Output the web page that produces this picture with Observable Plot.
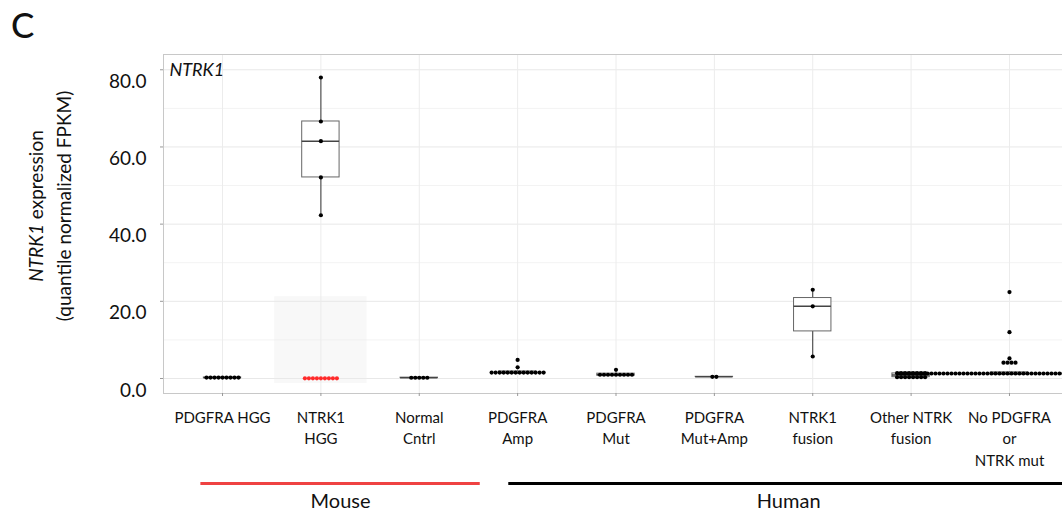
<!DOCTYPE html>
<html>
<head>
<meta charset="utf-8">
<script src="https://cdn.jsdelivr.net/npm/d3@7"></script>
<script src="https://cdn.jsdelivr.net/npm/@observablehq/plot@0.6"></script>
<style>
  html, body { margin: 0; padding: 0; background: #fff; overflow: hidden; }
  #wrap { width: 1070px; }
  #wrap svg { display: block; }
</style>
</head>
<body>
<div id="wrap"></div>
<script>
// ---------- data ----------
const categories = ["PDGFRA HGG", "NTRK1\nHGG", "Normal\nCntrl", "PDGFRA\nAmp", "PDGFRA\nMut",
  "PDGFRA\nMut+Amp", "NTRK1\nfusion", "Other NTRK\nfusion", "No PDGFRA\nor\nNTRK mut"];

const pdgfraHgg = [0.12, 0.15, 0.18, 0.2, 0.22, 0.24, 0.26, 0.3, 0.33];
const ntrk1Hgg = [42.3, 52.1, 61.5, 66.6, 78.0];
const ntrk1HggHighlight = [0.0, 0.01, 0.02, 0.02, 0.03, 0.04, 0.05, 0.06, 0.08];
const normalCntrl = [0.1, 0.14, 0.18, 0.22, 0.28];
const pdgfraAmp = [1.05, 1.1, 1.2, 1.25, 1.3, 1.4, 1.45, 1.5, 1.6, 1.7, 1.75, 1.8, 1.9, 2.0, 2.9, 4.8];
const pdgfraMut = [0.5, 0.6, 0.7, 0.8, 0.9, 1.0, 1.1, 1.3, 1.45, 2.25];
const pdgfraMutAmp = [0.4, 0.45];
const ntrk1Fusion = [5.7, 18.7, 23.0];
const otherNtrkFusion = [0.1, 0.15, 0.2, 0.3, 0.35, 0.45, 0.5, 0.6,
  1.15, 1.2, 1.25, 1.3, 1.35, 1.45, 1.5, 1.6];
const noPdgfraNtrk = [0.80, 0.82, 0.84, 0.85, 0.86, 0.88, 0.9, 0.91, 0.92, 0.94,
  0.95, 0.96, 0.98, 1.0, 1.01, 1.02, 1.04, 1.05, 1.06, 1.08,
  1.1, 1.11, 1.12, 1.14, 1.15, 1.16, 1.18, 1.2, 1.22, 1.24,
  1.25, 1.27, 1.3, 1.32, 1.34, 1.36, 1.38, 1.4, 1.42, 1.44,
  1.46, 1.48, 1.5, 1.52, 1.54, 1.56, 1.58, 1.6, 1.62, 1.64,
  1.66, 1.68, 1.7, 1.72, 1.75, 1.78,
  4.0, 4.05, 4.1, 4.2, 5.2, 12.0, 22.4];

const groupValues = [pdgfraHgg, ntrk1Hgg, normalCntrl, pdgfraAmp, pdgfraMut,
  pdgfraMutAmp, ntrk1Fusion, otherNtrkFusion, noPdgfraNtrk];

const yTicks = [0, 20, 40, 60, 80];
const yMinor = [10, 30, 50, 70];

// highlighted region (NTRK1 HGG, low values)
const highlightCategory = 2;
const highlightLow = -1.3;
const highlightHigh = 21.2;

// species groups under the axis
const speciesNames = ["Mouse", "Human"];
const speciesFrom = [0.78, 3.91];
const speciesTo = [3.62, 9.6];
const speciesColors = ["#ef4242", "#000000"];

// ---------- layout ----------
const W = 1070, H = 475;
const mL = 163, mR = 2, mT = 54, mB = 82;
const xDomain = [0.4, 9.6];
const yDomain = [-3.89, 83.96];
const pxPerUnit = (W - mL - mR) / (xDomain[1] - xDomain[0]);
const dotSpacing = 4 / pxPerUnit;
const boxHalf = 0.19;
const binWidth = 1.0;

function stats(values, pos) {
  const s = values.slice().sort(d3.ascending);
  const q1 = d3.quantileSorted(s, 0.25), med = d3.quantileSorted(s, 0.5), q3 = d3.quantileSorted(s, 0.75);
  const iqr = q3 - q1;
  const lo = d3.min(s.filter(v => v >= q1 - 1.5 * iqr));
  const hi = d3.max(s.filter(v => v <= q3 + 1.5 * iqr));
  return {pos, q1, med, q3, lo, hi};
}

function dotLayout(values, pos, color) {
  const s = values.slice().sort(d3.ascending);
  const out = [];
  let i = 0;
  while (i < s.length) {
    const start = s[i];
    let j = i;
    while (j < s.length && s[j] < start + binWidth) j++;
    const bin = s.slice(i, j);
    const c = (bin[0] + bin[bin.length - 1]) / 2;
    bin.forEach((v, k) => out.push({x: pos + (k - (bin.length - 1) / 2) * dotSpacing, y: c, color}));
    i = j;
  }
  return out;
}

const boxStats = groupValues.map((v, i) => stats(v, i + 1));
let dots = [];
groupValues.forEach((v, i) => { dots = dots.concat(dotLayout(v, i + 1, "#000")); });
dots = dots.concat(dotLayout(ntrk1HggHighlight, 2, "#ff2a2a"));

const catIdx = categories.map((d, i) => i + 1);

const main = Plot.plot({
  width: W, height: H,
  marginLeft: mL, marginRight: mR, marginTop: mT, marginBottom: mB,
  style: {fontFamily: "Lato, sans-serif", background: "#fff", color: "#111", maxWidth: "none"},
  x: {domain: xDomain, label: null},
  y: {domain: yDomain, label: null},
  marks: [
    Plot.gridY(yMinor, {stroke: "#f3f3f3", strokeOpacity: 1}),
    Plot.gridY(yTicks, {stroke: "#e8e8e8", strokeOpacity: 1}),
    Plot.gridX(catIdx, {stroke: "#ececec", strokeOpacity: 1}),
    Plot.rect([highlightCategory], {x1: d => d - 0.47, x2: d => d + 0.47, y1: highlightLow, y2: highlightHigh, fill: "#ececec", fillOpacity: 0.35}),
    Plot.frame({stroke: "#c8c8c8"}),
    Plot.axisY(yTicks, {tickSize: 3, fill: "none", stroke: "#999", label: null}),
    Plot.axisY(yTicks, {tickSize: 0, tickPadding: 17, dy: 12, fontSize: 19, fill: "#111", tickFormat: d3.format(".1f"), label: null}),
    Plot.axisX(catIdx, {tickSize: 3, stroke: "#999", tickPadding: 11, fontSize: 15, lineHeight: 1.44, fill: "#111",
      tickFormat: i => categories[i - 1], label: null}),
    // whiskers
    Plot.ruleX(boxStats, {x: "pos", y1: "q3", y2: "hi", stroke: "#333", strokeWidth: 1}),
    Plot.ruleX(boxStats, {x: "pos", y1: "lo", y2: "q1", stroke: "#333", strokeWidth: 1}),
    // boxes
    Plot.rect(boxStats, {x1: d => d.pos - boxHalf, x2: d => d.pos + boxHalf, y1: "q1", y2: "q3", fill: "#fff", stroke: "#666", strokeWidth: 1}),
    Plot.ruleY(boxStats, {x1: d => d.pos - boxHalf, x2: d => d.pos + boxHalf, y: "med", stroke: "#444", strokeWidth: 1.5}),
    // dots
    Plot.dot(dots, {x: "x", y: "y", r: 2.1, fill: "color", stroke: "none"}),
    Plot.text(["NTRK1"], {frameAnchor: "top-left", dx: 6, dy: 9, lineAnchor: "top", textAnchor: "start", fontStyle: "italic", fontSize: 18, fill: "#111"})
  ]
});

// panel letter and y-axis title
const svgSel = d3.select(main);
svgSel.append("text").attr("x", 11).attr("y", 38).attr("text-anchor", "start").attr("font-size", 35).attr("font-weight", 500).attr("font-family", "Lato, sans-serif").attr("fill", "#111").text("C");
const tg = svgSel.append("g").attr("font-family", "Lato, sans-serif").attr("font-size", 19).attr("fill", "#111").attr("text-anchor", "middle");
const t1 = tg.append("text").attr("transform", "translate(35,206) rotate(-90)").attr("dominant-baseline", "central");
t1.append("tspan").attr("font-style", "italic").text("NTRK1");
t1.append("tspan").text(" expression");
tg.append("text").attr("transform", "translate(63,206) rotate(-90)").attr("dominant-baseline", "central").text("(quantile normalized FPKM)");

const speciesIdx = speciesNames.map((d, i) => i);
const groupsPlot = Plot.plot({
  width: W, height: 42,
  marginLeft: mL, marginRight: mR, marginTop: 8, marginBottom: 0,
  style: {fontFamily: "Lato, sans-serif", background: "#fff", color: "#111", maxWidth: "none"},
  x: {domain: xDomain, axis: null},
  y: {domain: [0, 1], axis: null},
  marks: [
    Plot.ruleY(speciesIdx, {x1: i => speciesFrom[i], x2: i => speciesTo[i], y: 1, stroke: i => speciesColors[i], strokeWidth: 3}),
    Plot.text(speciesIdx, {x: i => (speciesFrom[i] + speciesTo[i]) / 2, y: 1, dy: 18, text: i => speciesNames[i], fontSize: 20, fill: "#111"})
  ]
});

document.getElementById("wrap").append(main, groupsPlot);
</script>
</body>
</html>
